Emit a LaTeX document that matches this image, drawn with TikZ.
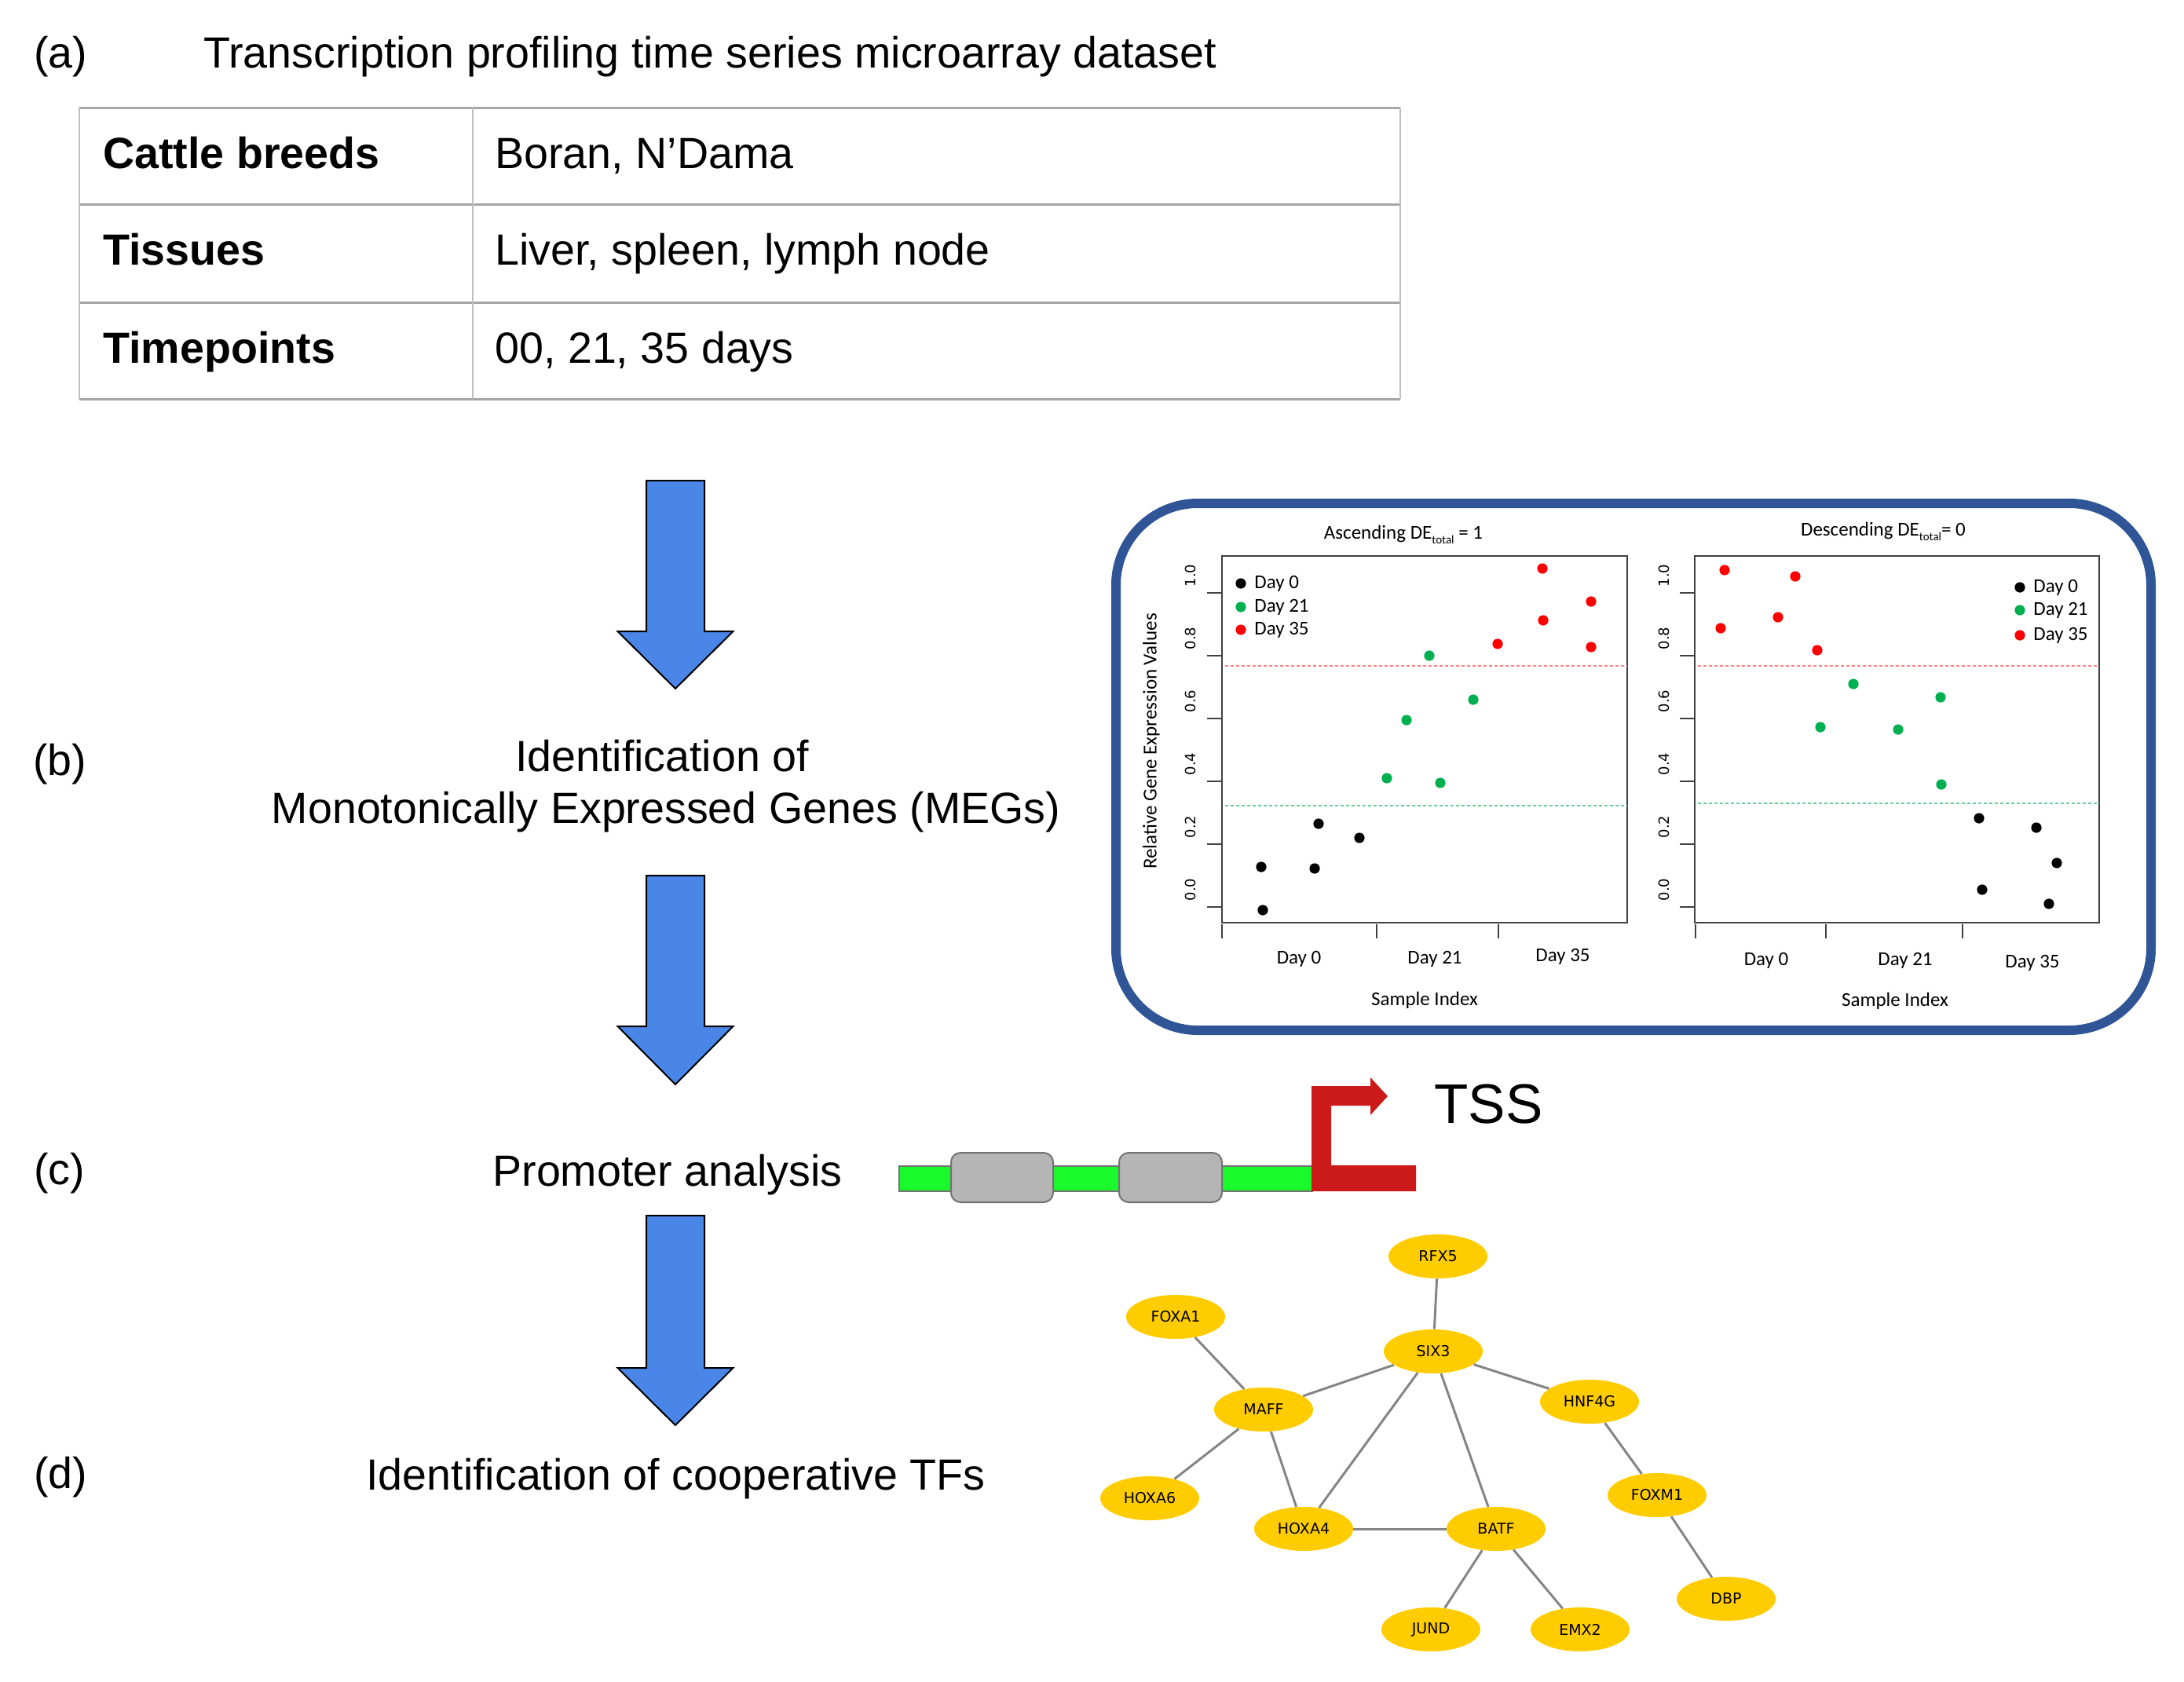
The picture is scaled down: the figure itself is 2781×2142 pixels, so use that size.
\documentclass[tikz,border=0pt]{standalone}
\usepackage{fontspec}
\setmainfont{Liberation Sans}
\newfontfamily\carl{Carlito}
\newfontfamily\dejav{DejaVu Sans}
\usetikzlibrary{shapes.geometric}
\definecolor{arrowblue}{HTML}{4A86E8}
\definecolor{boxblue}{HTML}{2F5597}
\definecolor{dnagreen}{HTML}{19F92C}
\definecolor{tssred}{HTML}{CC1A1A}
\definecolor{tfgold}{HTML}{FFCC00}
\definecolor{ptgreen}{HTML}{00B050}
\definecolor{edgegray}{HTML}{858585}
\definecolor{tablegray}{HTML}{A6A6A6}
\definecolor{boxgray}{HTML}{B5B5B5}
\newcommand{\totalsub}{\raisebox{-0.55ex}{\fontsize{7.5}{8}\selectfont total}}
\begin{document}
\begin{tikzpicture}[x=0.5pt,y=-0.5pt,
  mainlbl/.style={font=\fontsize{27.8}{33}\selectfont, inner sep=0},
  headlbl/.style={font=\fontsize{27.8}{33}\selectfont\bfseries, inner sep=0},
  ptxt/.style={font=\carl\fontsize{12.5}{15}\selectfont, inner sep=0},
  ticklbl/.style={font=\dejav\fontsize{9}{11}\selectfont, inner sep=0, rotate=90},
  tf/.style={ellipse, fill=tfgold, minimum width=63pt, minimum height=28pt, inner sep=0,
             font=\dejav\fontsize{9.5}{11}\selectfont},
  tfedge/.style={draw=edgegray, line width=1.5pt},
  blockarrow/.style={fill=arrowblue, draw=black, line width=1pt, line join=miter},
  hline/.style={draw=tablegray, line width=1.5pt},
  vline/.style={draw=gray!50, line width=0.7pt},
  frameline/.style={draw=black!75, line width=0.9pt},
  reddots/.style={draw=red!50, line width=1pt, dash pattern=on 1.75pt off 1.75pt},
  greendots/.style={draw=ptgreen!60, line width=1pt, dash pattern=on 1.75pt off 1.75pt}
]
\useasboundingbox (0,0) rectangle (2781,2142);

% ---------------- (a) ----------------
\node[mainlbl, anchor=base west] (la) at (43,86) {(a)};
\node[mainlbl, anchor=base west] (ta) at (259,86) {Transcription profiling time series microarray dataset};

\draw[hline] (101,137) -- (1783,137);
\draw[hline] (101,260) -- (1783,260);
\draw[hline] (101,385) -- (1783,385);
\draw[hline] (101,508) -- (1783,508);
\draw[vline] (101,137) -- (101,508);
\draw[vline] (602,137) -- (602,508);
\draw[vline] (1783,137) -- (1783,508);

\node[headlbl, anchor=base west] (h1) at (131,214) {Cattle breeds};
\node[headlbl, anchor=base west] (h2) at (131,337) {Tissues};
\node[headlbl, anchor=base west] (h3) at (131,462) {Timepoints};
\node[mainlbl, anchor=base west] (v1) at (630,214) {Boran, N’Dama};
\node[mainlbl, anchor=base west] (v2) at (630,337) {Liver, spleen, lymph node};
\node[mainlbl, anchor=base west] (v3) at (630,462) {00, 21, 35 days};

% ---------------- block arrows ----------------
\foreach \t/\hb/\tip in {612/192/265, 1115/192/266, 1548/194/267}{
  \draw[blockarrow] (823,\t) -- (897,\t) -- (897,\t+\hb) -- (933.5,\t+\hb)
     -- (860,\t+\tip) -- (786.5,\t+\hb) -- (823,\t+\hb) -- cycle;
}

% ---------------- (b) ----------------
\node[mainlbl, anchor=base west] (lb) at (42,987) {(b)};
\node[mainlbl, anchor=base] (tb1) at (843,982) {Identification of};
\node[mainlbl, anchor=base] (tb2) at (848,1048) {Monotonically Expressed Genes (MEGs)};

% ---------------- (c) ----------------
\node[mainlbl, anchor=base west] (lc) at (43,1508) {(c)};
\node[mainlbl, anchor=base west] (tc) at (627,1510) {Promoter analysis};

% ---------------- (d) ----------------
\node[mainlbl, anchor=base west] (ld) at (43,1895) {(d)};
\node[mainlbl, anchor=base west] (td) at (466,1897) {Identification of cooperative TFs};

% ---------------- plot box ----------------
\draw[boxblue, line width=6pt, rounded corners=52pt] (1421,641) rectangle (2739,1312);

% left plot
\draw[frameline] (1556,708) rectangle (2072,1175);
\foreach \v/\lab in {0/0.0,1/0.2,2/0.4,3/0.6,4/0.8,5/1.0}{
  \draw[frameline] (1537,{1155-80*\v}) -- (1556,{1155-80*\v});
  \node[ticklbl] at (1516,{1133-80*\v}) {\lab};
}
\foreach \xx in {1556,1753,1908}{ \draw[frameline] (\xx,1177) -- (\xx,1195); }
\draw[reddots] (1560,848) -- (2072,848);
\draw[greendots] (1560,1026) -- (2072,1026);
\node[ptxt, anchor=base] (t1) at (1787,686) {Ascending DE\totalsub\ = 1};
\node[ptxt, rotate=90] (yl) at (1466,944) {Relative Gene Expression Values};
\node[ptxt, anchor=base] at (1654,1227) {Day 0};
\node[ptxt, anchor=base] at (1827,1227) {Day 21};
\node[ptxt, anchor=base] at (1990,1224) {Day 35};
\node[ptxt, anchor=base] (xl1) at (1814,1280) {Sample Index};
% legend left
\fill[black] (1580,743) circle[radius=3.3pt];
\fill[ptgreen] (1580,773) circle[radius=3.3pt];
\fill[red] (1580,802) circle[radius=3.3pt];
\node[ptxt, anchor=west] at (1597,743) {Day 0};
\node[ptxt, anchor=west] at (1597,773) {Day 21};
\node[ptxt, anchor=west] at (1597,802) {Day 35};
% points left
\foreach \px/\py in {1606/1104,1608/1159,1679/1049,1674/1106,1731/1067}{\fill[black] (\px,\py) circle[radius=3.3pt];}
\foreach \px/\py in {1766/991,1791/917,1820/835,1834/997,1876/891}{\fill[ptgreen] (\px,\py) circle[radius=3.3pt];}
\foreach \px/\py in {1907/820,1964/724,1965/790,2026/766,2026/824}{\fill[red] (\px,\py) circle[radius=3.3pt];}

% right plot
\draw[frameline] (2158,708) rectangle (2673,1175);
\foreach \v/\lab in {0/0.0,1/0.2,2/0.4,3/0.6,4/0.8,5/1.0}{
  \draw[frameline] (2139,{1155-80*\v}) -- (2158,{1155-80*\v});
  \node[ticklbl] at (2119,{1133-80*\v}) {\lab};
}
\foreach \xx in {2159,2325,2499}{ \draw[frameline] (\xx,1177) -- (\xx,1195); }
\draw[reddots] (2162,848) -- (2673,848);
\draw[greendots] (2162,1023) -- (2673,1023);
\node[ptxt, anchor=base] (t2) at (2398,682) {Descending DE\totalsub= 0};
\node[ptxt, anchor=base] at (2249,1229) {Day 0};
\node[ptxt, anchor=base] at (2426,1229) {Day 21};
\node[ptxt, anchor=base] at (2588,1232) {Day 35};
\node[ptxt, anchor=base] (xl2) at (2413,1281) {Sample Index};
% legend right
\fill[black] (2572,748) circle[radius=3.3pt];
\fill[ptgreen] (2572,777) circle[radius=3.3pt];
\fill[red] (2572,809) circle[radius=3.3pt];
\node[ptxt, anchor=west] at (2589,748) {Day 0};
\node[ptxt, anchor=west] at (2589,777) {Day 21};
\node[ptxt, anchor=west] at (2589,809) {Day 35};
% points right
\foreach \px/\py in {2196/726,2191/800,2286/734,2264/786,2314/828}{\fill[red] (\px,\py) circle[radius=3.3pt];}
\foreach \px/\py in {2318/926,2360/871,2417/929,2471/888,2472/999}{\fill[ptgreen] (\px,\py) circle[radius=3.3pt];}
\foreach \px/\py in {2520/1042,2524/1133,2593/1054,2619/1099,2609/1151}{\fill[black] (\px,\py) circle[radius=3.3pt];}

% ---------------- promoter ----------------
\draw[fill=dnagreen, draw=gray!90!black, line width=1pt] (1145,1485) rectangle (1671,1517);
\draw[fill=boxgray, draw=black!55, line width=1pt, rounded corners=6pt] (1211,1468) rectangle (1341,1531);
\draw[fill=boxgray, draw=black!55, line width=1pt, rounded corners=6pt] (1425,1468) rectangle (1556,1531);
\fill[tssred] (1670,1517) -- (1803,1517) -- (1803,1484) -- (1695,1484) -- (1695,1408)
   -- (1745,1408) -- (1745,1420) -- (1767,1396) -- (1745,1372) -- (1745,1383) -- (1670,1383) -- cycle;
\node[font=\fontsize{35.5}{42}\selectfont, inner sep=0, anchor=base west] (tss) at (1826,1430) {TSS};

% ---------------- network ----------------
\node[tf] (rfx) at (1831,1600) {RFX5};
\node[tf] (foxa) at (1497,1677) {FOXA1};
\node[tf] (six) at (1825,1721) {SIX3};
\node[tf] (maff) at (1609,1795) {MAFF};
\node[tf] (hnf) at (2024,1785) {HNF4G};
\node[tf] (hoxb) at (1464,1908) {HOXA6};
\node[tf] (hoxa) at (1660,1947) {HOXA4};
\node[tf] (batf) at (1905,1947) {BATF};
\node[tf] (foxm) at (2110,1904) {FOXM1};
\node[tf] (dbp) at (2198,2036) {DBP};
\node[tf] (jund) at (1822,2075) {JUND};
\node[tf] (emx) at (2012,2075) {EMX2};
\draw[tfedge] (rfx) -- (six);
\draw[tfedge] (foxa) -- (maff);
\draw[tfedge] (six) -- (maff);
\draw[tfedge] (six) -- (hnf);
\draw[tfedge] (six) -- (hoxa);
\draw[tfedge] (six) -- (batf);
\draw[tfedge] (maff) -- (hoxb);
\draw[tfedge] (maff) -- (hoxa);
\draw[tfedge] (hoxa) -- (batf);
\draw[tfedge] (hnf) -- (foxm);
\draw[tfedge] (foxm) -- (dbp);
\draw[tfedge] (batf) -- (jund);
\draw[tfedge] (batf) -- (emx);
\end{tikzpicture}
\end{document}
